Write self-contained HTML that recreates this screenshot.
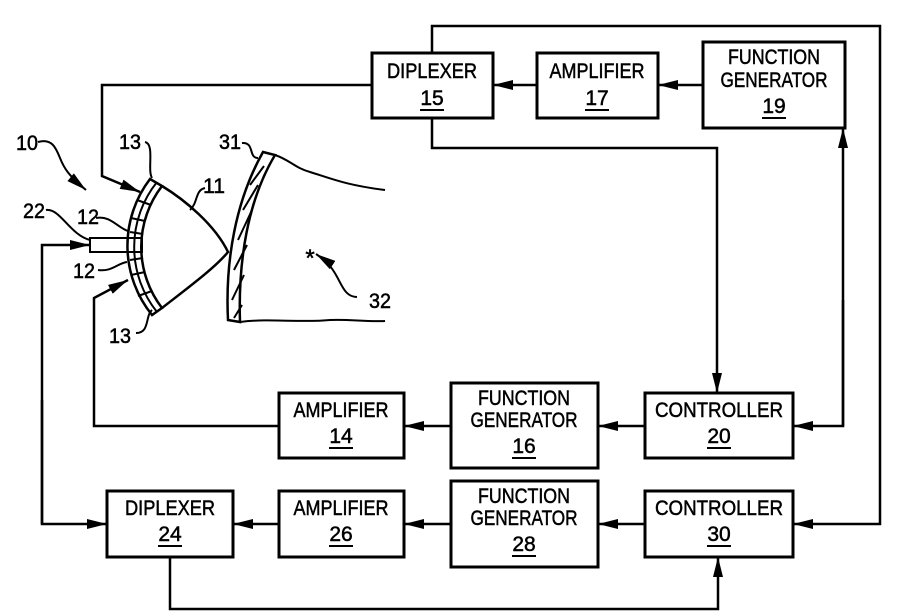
<!DOCTYPE html>
<html><head><style>
body{margin:0;background:#fff}
svg{display:block}
text{font-family:"Liberation Sans",sans-serif;font-size:21px;fill:#000;text-anchor:middle;stroke:#000;stroke-width:0.5}
</style></head><body>
<svg width="907" height="615" viewBox="0 0 907 615" xmlns="http://www.w3.org/2000/svg">
<defs>
<marker id="b" viewBox="0 0 20 10" markerWidth="20" markerHeight="10" refX="20" refY="5" orient="auto" markerUnits="userSpaceOnUse"><path d="M0,0 L20,5 L0,10z"/></marker></defs>
<g fill="none" stroke="#000" stroke-width="3">
<rect x="372" y="53" width="121" height="65"/>
<rect x="537" y="53" width="121" height="65"/>
<rect x="703" y="42" width="142" height="86"/>
<rect x="279" y="393" width="125" height="65"/>
<rect x="451" y="383" width="147" height="85"/>
<rect x="645" y="393" width="148" height="65"/>
<rect x="107" y="491" width="126" height="66"/>
<rect x="279" y="491" width="125" height="66"/>
<rect x="451" y="481" width="147" height="86"/>
<rect x="645" y="491" width="148" height="66"/>
<g stroke-width="2.5">
<path d="M537 85H493" marker-end="url(#b)"/>
<path d="M703 85H658" marker-end="url(#b)"/>
<path d="M432 53V26H880V524H793" marker-end="url(#b)"/>
<path d="M432 118V148H717V393" marker-end="url(#b)"/>
<path d="M843 426V128" marker-end="url(#b)"/>
<path d="M843 300V426H793" marker-end="url(#b)"/>
<path d="M645 426H598" marker-end="url(#b)"/>
<path d="M451 426H404" marker-end="url(#b)"/>
<path d="M645 524H598" marker-end="url(#b)"/>
<path d="M451 524H404" marker-end="url(#b)"/>
<path d="M279 524H233" marker-end="url(#b)"/>
<path d="M170 557V609H718V557" marker-end="url(#b)"/>
<path d="M42 400V524H107" marker-end="url(#b)"/>
<path d="M42 524V245H90" marker-end="url(#b)"/>
<path d="M279 426H94V298L128 280" marker-end="url(#b)"/>
<path d="M372 85H102V176L140 192" marker-end="url(#b)"/>
</g>
<g stroke-width="2">
<path d="M38 142C52 138 56 148 60 158C64 168 68 175 86 190" marker-end="url(#b)"/>
<path d="M357 297C345 297 342 285 336 275C332 268 328 262 316 254" marker-end="url(#b)"/>
<path d="M145 142C155 144 147 170 152 178M242 143C255 142 248 158 258 158M205 188C195 190 198 203 190 210M46 210C60 208 70 235 90 240M96 218C110 215 118 228 128 231M98 270C112 272 118 263 127 262M136 333C150 333 145 316 152 310"/>
<path d="M150 179L162 186A100 100 0 0 0 162 308L152 315A110 110 0 0 1 150 179Z" stroke-width="2.5"/>
<path d="M157 182A104 104 0 0 0 157 312"/>
<path d="M137 200L151 205M131 218L145 221M130 232L143 234M130 260L143 258M131 275L145 272M138 296L152 291"/>
<path d="M162 186C185 200 215 225 228 252C215 268 185 290 162 308" stroke-width="2.5"/>
<rect x="90" y="238" width="52" height="14"/>
<path d="M263 152L275 155C248 200 238 260 240 322L228 320C225 260 236 200 263 152Z" stroke-width="2.5"/>
<path d="M275 155C290 160 295 168 310 172C330 178 345 185 385 190M240 322C270 318 300 323 330 320C350 319 365 322 385 321"/>
<path d="M250 185L264 166M243 210L258 185M238 240L252 210M234 270L247 245M232 300L244 275M234 318L242 305"/>
</g>
</g>
<g>
<text x="432" y="78" textLength="90" lengthAdjust="spacingAndGlyphs">DIPLEXER</text><text x="432" y="105">15</text>
<text x="597" y="78" textLength="95" lengthAdjust="spacingAndGlyphs">AMPLIFIER</text><text x="597" y="105">17</text>
<text x="774" y="64" textLength="92" lengthAdjust="spacingAndGlyphs">FUNCTION</text><text x="774" y="87" textLength="107" lengthAdjust="spacingAndGlyphs">GENERATOR</text><text x="774" y="113">19</text>
<text x="341" y="417" textLength="95" lengthAdjust="spacingAndGlyphs">AMPLIFIER</text><text x="341" y="443">14</text>
<text x="524" y="405" textLength="92" lengthAdjust="spacingAndGlyphs">FUNCTION</text><text x="524" y="427" textLength="107" lengthAdjust="spacingAndGlyphs">GENERATOR</text><text x="524" y="453">16</text>
<text x="719" y="417" textLength="128" lengthAdjust="spacingAndGlyphs">CONTROLLER</text><text x="719" y="443">20</text>
<text x="170" y="515" textLength="90" lengthAdjust="spacingAndGlyphs">DIPLEXER</text><text x="170" y="541">24</text>
<text x="341" y="515" textLength="95" lengthAdjust="spacingAndGlyphs">AMPLIFIER</text><text x="341" y="541">26</text>
<text x="524" y="503" textLength="92" lengthAdjust="spacingAndGlyphs">FUNCTION</text><text x="524" y="525" textLength="107" lengthAdjust="spacingAndGlyphs">GENERATOR</text><text x="524" y="551">28</text>
<text x="719" y="515" textLength="128" lengthAdjust="spacingAndGlyphs">CONTROLLER</text><text x="719" y="541">30</text>
</g>
<g stroke="#000" stroke-width="2">
<line x1="420" y1="110" x2="444" y2="110"/><line x1="585" y1="110" x2="609" y2="110"/><line x1="762" y1="118" x2="786" y2="118"/>
<line x1="329" y1="448" x2="353" y2="448"/><line x1="512" y1="458" x2="536" y2="458"/><line x1="707" y1="448" x2="731" y2="448"/>
<line x1="158" y1="546" x2="182" y2="546"/><line x1="329" y1="546" x2="353" y2="546"/><line x1="512" y1="556" x2="536" y2="556"/><line x1="707" y1="546" x2="731" y2="546"/>
</g>
<g style="font-size:20px">
<text x="27" y="150" textLength="22" lengthAdjust="spacingAndGlyphs">10</text>
<text x="130" y="149" textLength="22" lengthAdjust="spacingAndGlyphs">13</text>
<text x="230" y="149" textLength="22" lengthAdjust="spacingAndGlyphs">31</text>
<text x="214" y="193" textLength="22" lengthAdjust="spacingAndGlyphs">11</text>
<text x="34" y="218" textLength="22" lengthAdjust="spacingAndGlyphs">22</text>
<text x="88" y="224" textLength="22" lengthAdjust="spacingAndGlyphs">12</text>
<text x="84" y="278" textLength="22" lengthAdjust="spacingAndGlyphs">12</text>
<text x="120" y="343" textLength="22" lengthAdjust="spacingAndGlyphs">13</text>
<text x="380" y="308" textLength="22" lengthAdjust="spacingAndGlyphs">32</text>
<text x="310" y="266" style="font-size:24px">*</text>
</g>
</svg>
</body></html>
